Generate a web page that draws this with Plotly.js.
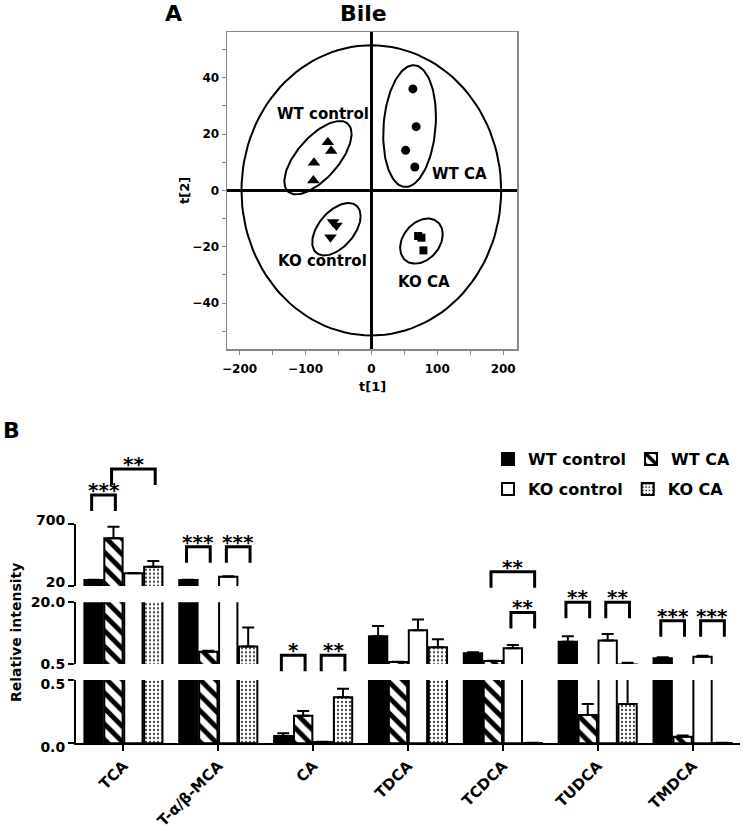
<!DOCTYPE html>
<html>
<head>
<meta charset="utf-8">
<script src="https://cdn.plot.ly/plotly-3.0.1.min.js"></script>
<style>
  body { margin: 0; background: #fff; }
  #chart { width: 745px; height: 831px; }
</style>
</head>
<body>
<div id="chart"></div>
<script>
// ---- panel A: PCA scores ----
var wtCtrlX = [-66, -61, -87, -88];
var wtCtrlY = [17.1, 14.0, 9.8, 3.5];
var wtCaX = [63, 68, 52, 66];
var wtCaY = [36, 22.6, 14.2, 8.3];
var koCtrlX = [-58, -53, -62];
var koCtrlY = [-11.2, -12.5, -16.6];
var koCaX = [71, 76, 79];
var koCaY = [-16.2, -16.8, -21.3];

// ellipses (Hotelling + groups): centre, half extents, correlation
var ellCx = [0, -81, 58, -53, 76];
var ellCy = [0, 11.6, 22.8, -13.8, -18];
var ellSx = [197, 51, 40, 36.7, 32.3];
var ellSy = [51.5, 13, 21.6, 9.3, 8];
var ellRho = [0, 0.65, 0.15, 0.5, 0.3];

var groupLabels = ['WT control', 'WT CA', 'KO control', 'KO CA'];
var labelX = [-74, 134, -74, 80];
var labelY = [27.2, 5.7, -25.1, -32.6];

// ---- panel B: bile acids ----
var acids = ['TCA', 'T-α/β-MCA', 'CA', 'TDCA', 'TCDCA', 'TUDCA', 'TMDCA'];
var wtCtrl = [85, 85, 0.058, 9.3, 3.9, 7.5, 2.3];
var wtCtrlErr = [4, 3, 0.021, 3.2, 0.3, 1.8, 0.3];
var wtCa = [541, 4.4, 0.218, 1.1, 1.45, 0.224, 0.052];
var wtCaErr = [126, 0.3, 0.037, 0.1, 0.1, 0.086, 0.01];
var koCtrl = [158, 122, 0.01, 11.2, 5.5, 7.9, 2.8];
var koCtrlErr = [5, 5, 0.002, 3.4, 1.0, 2.1, 0.3];
var koCa = [231, 6.0, 0.363, 5.8, 0.003, 0.31, 0.003];
var koCaErr = [62, 6.0, 0.067, 2.5, 0.001, 0.6, 0.001];

// significance brackets: category, bar from, bar to, axis, level, label
var sigCat = [0, 0, 1, 1, 2, 2, 4, 4, 5, 5, 6, 6];
var sigFrom = [0, 1, 0, 2, 0, 2, 1, 2, 0, 2, 0, 2];
var sigTo = [1, 3, 1, 3, 1, 3, 3, 3, 1, 3, 1, 3];
var sigAxis = ['yaxis3', 'yaxis3', 'yaxis3', 'yaxis3', 'yaxis2', 'yaxis2', 'yaxis3', 'yaxis2', 'yaxis2', 'yaxis2', 'yaxis2', 'yaxis2'];
var sigLevel = [1013, 1297, 449, 449, 3.3, 3.3, 176, 16.8, 20, 20, 14.2, 14.2];
var sigLabel = ['***', '**', '***', '***', '*', '**', '**', '**', '**', '**', '***', '***'];

var W = 745, H = 831;
function px(p) { return p / W; }
function py(p) { return 1 - p / H; }

var FONT = 'DejaVu Sans, Arial, sans-serif';
var bargap = 0.16;

var traces = [];

// ellipses first so markers sit on top
for (var e = 0; e < ellCx.length; e++) {
  var ex = [], ey = [];
  for (var i = 0; i <= 120; i++) {
    var t = i / 120 * 2 * Math.PI;
    ex.push(ellCx[e] + ellSx[e] * Math.cos(t));
    ey.push(ellCy[e] + ellSy[e] * (ellRho[e] * Math.cos(t) + Math.sqrt(1 - ellRho[e] * ellRho[e]) * Math.sin(t)));
  }
  traces.push({
    type: 'scatter', mode: 'lines', x: ex, y: ey, xaxis: 'x4', yaxis: 'y4',
    line: { color: 'black', width: 2 }, showlegend: false, hoverinfo: 'skip'
  });
}

var scoreX = [wtCtrlX, wtCaX, koCtrlX, koCaX];
var scoreY = [wtCtrlY, wtCaY, koCtrlY, koCaY];
var symbols = ['triangle-up', 'circle', 'triangle-down', 'square'];
var symSize = [11, 9, 11, 8];
for (var g = 0; g < 4; g++) {
  traces.push({
    type: 'scatter', mode: 'markers', x: scoreX[g], y: scoreY[g], xaxis: 'x4', yaxis: 'y4',
    marker: { symbol: symbols[g], size: symSize[g], color: 'black' },
    showlegend: false
  });
}

// bars, repeated on each piece of the broken axis
var values = [wtCtrl, wtCa, koCtrl, koCa];
var errs = [wtCtrlErr, wtCaErr, koCtrlErr, koCaErr];
var markers = [
  { color: 'black', line: { color: 'black', width: 2 } },
  { color: 'white', line: { color: 'black', width: 2 }, pattern: { shape: '\\', fgcolor: 'black', size: 11, solidity: 0.45 } },
  { color: 'white', line: { color: 'black', width: 2 } },
  { color: 'white', line: { color: 'black', width: 2 }, pattern: { shape: '.', fgcolor: '#444', size: 4, solidity: 0.25 } }
];
var pieces = ['y', 'y2', 'y3'];
var pieceMin = [0, 0.5, 20];
pieces.forEach(function (yax, p) {
  for (var k = 0; k < 4; k++) {
    // a bar (with its error) that stays below this piece is left out of it
    var shown = values[k].map(function (v, j) {
      return v + errs[k][j] >= pieceMin[p] ? v : null;
    });
    traces.push({
      type: 'bar', x: acids, y: shown, xaxis: 'x', yaxis: yax,
      name: groupLabels[k], legendgroup: groupLabels[k],
      legend: k < 2 ? 'legend' : 'legend2',
      showlegend: yax === 'y3',
      marker: markers[k],
      error_y: { type: 'data', array: errs[k], arrayminus: errs[k].map(function () { return 0; }),
                 symmetric: false, color: 'black', thickness: 2, width: 6 }
    });
  }
});

var tickFontB = { family: FONT, size: 14, color: 'black', weight: 'bold' };
function brokenAxis(top, bottom, range, vals, text, shift) {
  return {
    domain: [py(bottom), py(top)], range: range, anchor: 'x',
    tickvals: vals, ticktext: text, tickfont: tickFontB, ticklabelshift: shift,
    showline: true, linecolor: 'black', linewidth: 2,
    ticks: 'outside', ticklen: 6, tickwidth: 2, tickcolor: 'black',
    showgrid: false, zeroline: false, fixedrange: true
  };
}

var legendFont = { family: FONT, size: 16, weight: 'bold', color: 'black' };

var layout = {
  width: W, height: H,
  margin: { l: 0, r: 0, t: 0, b: 0, autoexpand: false },
  paper_bgcolor: 'white', plot_bgcolor: 'rgba(0,0,0,0)',
  font: { family: FONT, color: 'black' },
  barmode: 'group', bargap: bargap, bargroupgap: 0.08,
  xaxis: {
    domain: [px(76), px(740)], anchor: 'y', range: [-0.5, 6.5],
    showline: true, linecolor: 'black', linewidth: 2,
    ticks: 'outside', ticklen: 6, tickwidth: 2, tickcolor: 'black',
    tickangle: -45, tickfont: { family: FONT, size: 15, color: 'black', weight: 'bold' },
    showgrid: false, fixedrange: true
  },
  yaxis: brokenAxis(680, 743.3, [0, 0.5], [0, 0.5], ['0.0', '0.5'], 4),
  yaxis2: brokenAxis(602.3, 664, [0.5, 20], [0.5, 20], ['0.5', '20.0'], 0),
  yaxis3: brokenAxis(523.7, 586, [20, 700], [20, 700], ['20', '700'], -4),
  xaxis4: {
    domain: [px(227), px(517)], anchor: 'y4', range: [-219, 221],
    tick0: 0, dtick: 100, ticks: 'outside', ticklen: 4, tickcolor: '#888',
    minor: { dtick: 50, ticks: 'outside', ticklen: 4, tickcolor: '#888' },
    showline: true, mirror: true, linecolor: '#888', linewidth: 1.5,
    zeroline: true, zerolinecolor: 'black', zerolinewidth: 2.5,
    showgrid: false, tickfont: { family: FONT, size: 12, weight: 'bold' },
    ticklabelstandoff: 4, fixedrange: true
  },
  yaxis4: {
    domain: [py(349), py(32)], anchor: 'x4', range: [-56.3, 56.2],
    tick0: 0, dtick: 20, ticks: 'outside', ticklen: 4, tickcolor: '#888',
    minor: { dtick: 10, ticks: 'outside', ticklen: 4, tickcolor: '#888' },
    showline: true, mirror: true, linecolor: '#888', linewidth: 1.5,
    zeroline: true, zerolinecolor: 'black', zerolinewidth: 2.5,
    showgrid: false, tickfont: { family: FONT, size: 12, weight: 'bold' },
    fixedrange: true
  },
  legend: {
    x: px(488), y: py(442), xanchor: 'left', yanchor: 'top', orientation: 'h',
    bgcolor: 'rgba(0,0,0,0)', font: legendFont
  },
  legend2: {
    x: px(488), y: py(472), xanchor: 'left', yanchor: 'top', orientation: 'h',
    bgcolor: 'rgba(0,0,0,0)', font: legendFont
  },
  shapes: [],
  annotations: []
};

function ann(text, x, y, size, extra) {
  var a = { text: text, x: x, y: y, xref: 'paper', yref: 'paper', showarrow: false,
            xanchor: 'center', yanchor: 'middle',
            font: { family: FONT, size: size, color: 'black', weight: 'bold' } };
  for (var key in extra) a[key] = extra[key];
  layout.annotations.push(a);
}

// panel titles and axis titles
ann('A', px(173), py(14), 22);
ann('Bile', px(363), py(14), 22);
ann('t[1]', px(372), py(386), 13);
ann('t[2]', px(185), py(191), 13, { textangle: -90 });
ann('B', px(11), py(430), 22);
ann('Relative intensity', px(16), py(633), 14, { textangle: -90 });

// group labels inside the score plot
for (var g2 = 0; g2 < 4; g2++) {
  layout.annotations.push({
    text: groupLabels[g2], x: labelX[g2], y: labelY[g2], xref: 'x4', yref: 'y4',
    xanchor: 'center', yanchor: 'middle', showarrow: false,
    font: { family: FONT, size: 15, color: 'black', weight: 'bold' }
  });
}

// significance brackets, positioned from the bar layout and the axis scales
var slot = (1 - bargap) / 4;
function barCenter(cat, k) { return cat + (k - 1.5) * slot; }
function toPaper(axName, v) {
  var ax = layout[axName];
  return ax.domain[0] + (v - ax.range[0]) / (ax.range[1] - ax.range[0]) * (ax.domain[1] - ax.domain[0]);
}
var leg = 16 / H;
for (var s = 0; s < sigCat.length; s++) {
  var x1 = barCenter(sigCat[s], sigFrom[s]) - 0.02;
  var x2 = barCenter(sigCat[s], sigTo[s]) + 0.02;
  var yt = toPaper(sigAxis[s], sigLevel[s]);
  layout.shapes.push({
    type: 'path', xref: 'x', yref: 'paper',
    path: 'M' + x1 + ',' + (yt - leg) + 'L' + x1 + ',' + yt + 'L' + x2 + ',' + yt + 'L' + x2 + ',' + (yt - leg),
    line: { color: 'black', width: 3 }
  });
  layout.annotations.push({
    text: sigLabel[s], x: (x1 + x2) / 2, y: yt + 5 / H, xref: 'x', yref: 'paper',
    xanchor: 'center', yanchor: 'middle', showarrow: false,
    font: { family: FONT, size: 20, color: 'black', weight: 'bold' }
  });
}

Plotly.newPlot('chart', traces, layout, { displayModeBar: false, staticPlot: true });
</script>
</body>
</html>
